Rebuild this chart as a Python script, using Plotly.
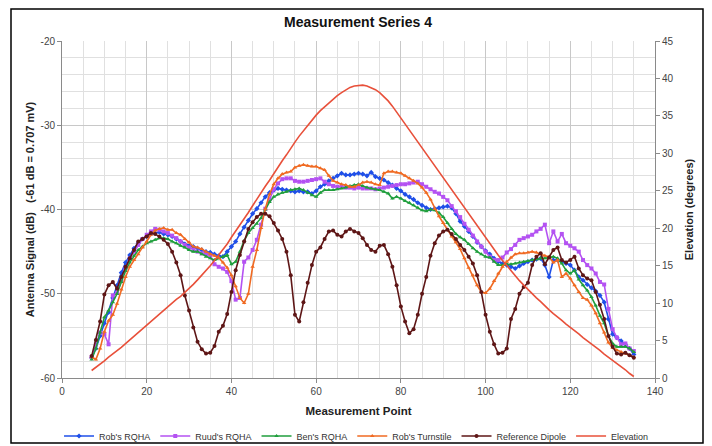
import plotly.graph_objects as go

points = list(range(7, 136))

signal_ticks = [-60, -50, -40, -30, -20]
signal_tick_labels = ["-60", "-50", "-40", "-30", "-20"]

robs_rqha = [
    -57.6, -56.5, -55.0, -53.5, -52.2, -50.5, -49.0, -47.5, -46.3, -45.4,
    -44.6, -44.0, -43.5, -43.2, -42.9, -42.8, -42.7, -42.9, -43.0, -43.2,
    -43.5, -43.8, -44.1, -44.3, -44.4, -44.6, -44.8, -45.0, -45.1, -45.3,
    -45.5, -45.6, -45.0, -44.4, -43.8, -42.9, -42.1, -41.3, -40.5, -39.9,
    -39.2, -38.5, -38.0, -37.7, -37.5, -37.6, -37.7, -37.8, -37.9, -37.8,
    -37.9, -37.9, -38.1, -37.8, -37.3, -37.0, -36.6, -36.3, -36.0, -35.7,
    -35.9, -35.9, -35.8, -35.7, -35.8, -36.0, -35.6, -36.1, -36.3, -36.5,
    -36.8, -37.1, -37.5, -37.8, -38.2, -38.5, -38.8, -39.2, -39.5, -39.8,
    -40.0, -39.9, -39.8, -39.7, -39.6, -39.8, -40.5, -41.4, -42.0, -42.6,
    -43.2, -43.9, -44.4, -44.9, -45.3, -45.8, -46.2, -46.4, -46.6, -46.8,
    -47.0, -46.7, -46.4, -46.2, -46.0, -45.9, -45.8, -46.6, -48.0, -46.0,
    -46.0, -46.2, -46.4, -46.6, -47.2, -48.0, -48.4, -48.9, -49.3, -49.7,
    -50.2, -51.0, -53.0, -54.8, -55.2, -55.6, -56.0, -56.5, -57.2,
]

ruuds_rqha = [
    -57.5, -56.0, -54.6, -54.8, -56.0, -50.2, -49.9, -48.5, -47.0, -45.8,
    -45.0, -44.2, -43.5, -43.0, -42.6, -42.3, -42.4, -42.6, -42.8, -43.1,
    -43.4, -43.8, -44.2, -44.5, -44.8, -45.0, -45.2, -45.3, -45.4, -46.5,
    -46.8, -47.0, -47.4, -48.5, -50.7, -50.5, -46.2, -45.7, -44.8, -43.6,
    -41.8, -39.9, -38.8, -37.6, -36.9, -36.4, -36.3, -36.3, -36.6, -36.7,
    -36.7, -36.6, -36.5, -36.4, -36.3, -36.7, -37.0, -37.2, -37.3, -37.3,
    -37.4, -37.4, -37.5, -37.4, -37.5, -37.5, -37.5, -37.6, -37.5, -37.4,
    -37.3, -37.2, -37.1, -37.0, -37.0, -36.9, -36.8, -36.7, -37.0, -37.3,
    -37.6, -37.9, -38.1, -38.5, -38.9, -39.6, -40.2, -40.9, -41.7, -42.4,
    -43.1, -43.8, -44.4, -45.0, -45.6, -46.0, -46.0, -45.7, -45.1, -44.7,
    -44.2, -43.6, -43.4, -43.2, -43.0, -42.6, -42.3, -41.8, -44.0, -42.6,
    -43.8, -42.9, -44.0, -44.3, -44.6, -45.0, -46.0, -46.6, -47.0, -47.6,
    -48.6, -48.9, -51.8, -54.2, -55.2, -56.0, -55.9, -56.5, -56.8,
]

bens_rqha = [
    -57.8, -56.5, -54.6, -52.8, -52.0, -51.0, -50.0, -48.6, -47.3, -46.3,
    -45.5, -44.8, -44.4, -44.0, -43.8, -43.6, -43.4, -43.4, -43.5, -43.8,
    -44.0, -44.3, -44.5, -44.8, -45.0, -45.0, -45.3, -45.6, -45.8, -46.0,
    -45.8, -45.6, -45.4, -46.5, -46.2, -45.0, -43.7, -42.8, -42.2, -41.7,
    -41.0, -40.0, -39.1, -38.5, -38.2, -38.0, -37.9, -37.7, -37.6, -37.5,
    -37.7, -38.0, -38.3, -38.5, -38.0, -37.7, -37.7, -37.7, -37.6, -37.5,
    -37.4, -37.2, -37.1, -37.0, -37.2, -37.4, -37.5, -37.6, -37.7, -37.9,
    -38.1, -38.7, -38.5, -38.7, -39.0, -39.2, -39.5, -39.8, -40.1, -40.2,
    -40.0, -40.1, -40.4, -40.9, -41.6, -42.3, -42.9, -43.3, -43.6, -44.1,
    -44.6, -45.0, -45.3, -45.6, -45.7, -46.2, -46.6, -46.6, -46.5, -46.5,
    -46.4, -46.3, -46.2, -46.1, -46.0, -45.9, -45.8, -45.8, -45.7, -45.6,
    -45.8, -46.4, -47.2, -47.6, -47.2, -48.3, -49.0, -49.6, -50.4, -51.4,
    -52.6, -53.5, -55.0, -55.9, -56.3, -56.3, -56.3, -56.5, -56.9,
]

robs_turnstile = [
    -57.5, -57.8, -56.5, -54.5, -53.2, -52.5, -51.2, -49.5, -48.0, -46.8,
    -46.0, -45.3, -44.5, -43.8, -43.0, -42.5, -42.3, -42.2, -42.4, -42.4,
    -42.8, -43.0, -43.5, -43.9, -44.4, -44.5, -44.7, -45.0, -45.3, -45.5,
    -45.7, -46.3, -46.9, -47.8, -49.1, -50.5, -51.1, -50.0, -46.8, -44.8,
    -42.2, -39.9, -38.2, -37.0, -36.3, -35.8, -35.6, -35.5, -35.0, -34.8,
    -34.7, -34.8, -34.9, -34.9, -35.1, -35.3, -36.0, -36.6, -36.8, -37.0,
    -37.1, -37.3, -37.3, -37.1, -36.8, -36.7, -36.8, -37.0, -37.1, -35.7,
    -35.5, -35.5, -35.6, -35.7, -36.0, -36.3, -36.6, -36.9, -37.4, -38.0,
    -38.8, -39.9, -40.8, -41.6, -42.4, -43.2, -43.9, -44.7, -45.8, -46.9,
    -47.8, -49.0, -49.8, -49.9, -49.4, -48.5, -47.6, -46.8, -46.2, -45.7,
    -45.3, -45.2, -45.2, -45.1, -45.0, -45.1, -45.3, -45.5, -45.6, -46.3,
    -46.0, -48.0, -47.6, -48.2, -49.0, -49.8, -50.5, -50.7, -51.4, -52.3,
    -53.5, -54.6, -55.8, -56.4, -56.7, -56.9, -57.1, -57.3, -57.5,
]

reference_dipole = [
    -57.4, -55.5, -53.3, -50.1, -49.0, -48.6, -49.4, -48.0, -46.8, -45.8,
    -44.8, -43.8, -43.5, -43.2, -42.8, -42.9, -43.2, -43.6, -44.1, -45.0,
    -46.3, -47.8, -50.2, -52.0, -54.0, -55.7, -56.6, -57.1, -57.0, -56.2,
    -54.5, -53.8, -52.4, -49.8, -47.2, -45.4, -43.8, -42.3, -41.5, -40.9,
    -40.5, -40.5, -40.8, -41.6, -42.5, -43.5, -45.0, -47.8, -52.5, -53.3,
    -51.0, -48.7, -46.6, -45.0, -44.5, -43.5, -42.6, -42.5, -43.0, -43.2,
    -42.6, -42.3, -42.6, -42.8, -43.4, -44.2, -44.8, -45.0, -44.3, -44.2,
    -45.3, -46.8, -49.0, -51.5, -53.3, -54.7, -54.2, -52.5, -50.0, -48.0,
    -45.5, -44.0, -43.1, -42.6, -42.4, -42.9, -43.5, -44.2, -44.8, -45.6,
    -46.4, -47.8, -49.8, -52.5, -54.5, -56.0, -57.1, -57.0, -56.5, -53.0,
    -51.8, -50.0, -49.2, -48.7, -46.6, -45.6, -45.2, -46.5, -45.7, -44.8,
    -44.5, -46.0, -46.3, -46.0, -45.6, -47.0, -47.8, -48.2, -48.4, -49.8,
    -51.3, -53.0, -55.0, -56.3, -57.1, -57.2, -57.0, -57.3, -57.6,
]

elevation = [
    1.0, 1.4, 1.9, 2.3, 2.8, 3.2, 3.7, 4.1, 4.6, 5.1,
    5.5, 6.0, 6.5, 7.0, 7.5, 8.0, 8.5, 9.0, 9.5, 10.0,
    10.5, 10.9, 11.4, 11.9, 12.5, 13.1, 13.7, 14.3, 15.0, 15.7,
    16.4, 17.1, 17.9, 18.8, 19.6, 20.4, 21.3, 22.1, 23.0, 23.9,
    24.7, 25.6, 26.4, 27.3, 28.1, 29.0, 29.8, 30.7, 31.5, 32.3,
    33.0, 33.8, 34.4, 35.1, 35.7, 36.2, 36.8, 37.3, 37.7, 38.1,
    38.5, 38.8, 39.0, 39.1, 39.1, 39.0, 38.8, 38.5, 38.1, 37.6,
    37.0, 36.3, 35.5, 34.7, 33.9, 33.1, 32.3, 31.5, 30.7, 29.9,
    29.1, 28.3, 27.5, 26.7, 25.9, 25.1, 24.4, 23.6, 22.8, 22.0,
    21.2, 20.4, 19.6, 18.8, 18.0, 17.2, 16.4, 15.7, 15.0, 14.3,
    13.7, 13.0, 12.4, 11.8, 11.3, 10.7, 10.2, 9.6, 9.1, 8.6,
    8.2, 7.7, 7.2, 6.8, 6.3, 5.9, 5.4, 5.0, 4.6, 4.1,
    3.7, 3.2, 2.8, 2.4, 2.0, 1.5, 1.1, 0.6, 0.2,
]

series = [
    ("Rob's RQHA", robs_rqha, "#1f4fe8", "diamond"),
    ("Ruud's RQHA", ruuds_rqha, "#b452f2", "square"),
    ("Ben's RQHA", bens_rqha, "#1f9e3c", "triangle-up"),
    ("Rob's Turnstile", robs_turnstile, "#f06a22", "triangle-up"),
    ("Reference Dipole", reference_dipole, "#5e1616", "circle"),
]

fig = go.Figure()
for name, vals, color, sym in series:
    fig.add_trace(go.Scatter(
        x=points, y=vals, name=name, mode="lines+markers",
        line=dict(color=color, width=1.6),
        marker=dict(symbol=sym, size=4, color=color),
    ))
fig.add_trace(go.Scatter(
    x=points, y=elevation, name="Elevation", mode="lines", yaxis="y2",
    line=dict(color="#e8503a", width=1.6),
))

# The page places the figure 8 px from the top-left corner (default body margin),
# so the figure is shrunk by that amount and layout positions are given in page pixels.
OFF = 8
W, H = 712 - OFF, 446 - OFF
L, R, T, B = 62, 655, 41, 378          # plot area in page pixels
pw, ph = R - L, B - T

def px(v):
    return (v - L) / pw

def py(v):
    return (B - v) / ph

axis_font = dict(family="Liberation Sans, Arial, sans-serif", size=10, color="#444")
title_font = dict(family="Liberation Sans, Arial, sans-serif", size=11, color="#222")

fig.update_layout(
    width=W, height=H,
    margin=dict(l=L - OFF, r=(712 - R), t=T - OFF, b=(446 - B), autoexpand=False),
    paper_bgcolor="white", plot_bgcolor="white",
    font=dict(family="Liberation Sans, Arial, sans-serif"),
    title=dict(text="<b>Measurement Series 4</b>", x=px(358), xref="paper",
               xanchor="center", y=1 - (22 - OFF) / H, yanchor="middle",
               font=dict(size=14, color="#111")),
    xaxis=dict(range=[0, 140], dtick=20, tick0=0, showgrid=True,
               gridcolor="#c8c8c8", gridwidth=1,
               minor=dict(dtick=5, showgrid=True, gridcolor="#e0e0e0"),
               showline=True, linecolor="#8a8a8a", linewidth=1,
               ticks="outside", ticklen=4, tickcolor="#8a8a8a",
               tickfont=axis_font, zeroline=False, automargin=False,
               title=dict(text="<b>Measurement Point</b>", font=dict(size=11.5, color="#222"), standoff=10)),
    yaxis=dict(range=[-60, -20], tickmode="array", tickvals=signal_ticks,
               ticktext=signal_tick_labels, showgrid=True,
               gridcolor="#c8c8c8", gridwidth=1,
               minor=dict(dtick=2, showgrid=True, gridcolor="#e0e0e0"),
               showline=True, linecolor="#8a8a8a", linewidth=1,
               ticks="outside", ticklen=4, tickcolor="#8a8a8a",
               tickfont=axis_font, zeroline=False, automargin=False,
               title=dict(text="<b>Antenna Signal (dB)   (-61 dB = 0.707 mV)</b>", font=title_font, standoff=3)),
    yaxis2=dict(range=[0, 45], dtick=5, overlaying="y", side="right",
                showgrid=False, showline=True, linecolor="#8a8a8a", linewidth=1,
                ticks="outside", ticklen=4, tickcolor="#8a8a8a",
                tickfont=axis_font, zeroline=False, automargin=False,
                title=dict(text="<b>Elevation (degrees)</b>", font=title_font, standoff=12)),
    legend=dict(orientation="h", x=-0.005, xanchor="left",
                y=py(436), yanchor="middle", font=dict(size=9, color="#333"),
                bgcolor="rgba(0,0,0,0)", itemwidth=30, tracegroupgap=0),
    shapes=[dict(type="rect", xref="paper", yref="paper",
                 x0=px(11), x1=px(703), y0=py(443), y1=py(OFF + 1),
                 line=dict(color="black", width=1.5), layer="above")],
    showlegend=True,
)

fig.write_html("out.html")
